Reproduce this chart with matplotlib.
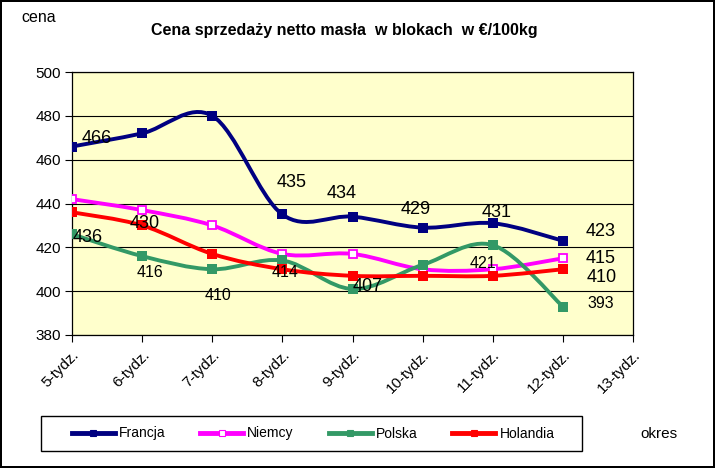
import numpy as np
import matplotlib
matplotlib.use('Agg')
from matplotlib import pyplot as plt
from matplotlib.path import Path
from matplotlib.patches import PathPatch, Rectangle
from matplotlib import transforms

plt.rcParams['font.family'] = ['Liberation Sans', 'DejaVu Sans']

# chart data
weeks = ['5-tydz.', '6-tydz.', '7-tydz.', '8-tydz.', '9-tydz.', '10-tydz.', '11-tydz.', '12-tydz.', '13-tydz.']
francja = [466, 472, 480, 435, 434, 429, 431, 423]
niemcy = [442, 437, 430, 417, 417, 410, 410, 415]
polska = [426, 416, 410, 414, 401, 412, 421, 393]
holandia = [436, 430, 417, 410, 407, 407, 407, 410]

# data labels actually shown on the original chart: (series, index)
shown_labels = {
    'Francja': [0, 3, 4, 5, 6, 7],
    'Niemcy': [7],
    'Polska': [1, 2, 3, 6, 7],
    'Holandia': [0, 1, 4, 7],
}

# label offsets in points (dx, dy)
label_offsets = {
    ('Francja', 0): (18, 6), ('Francja', 3): (7, 23), ('Francja', 4): (-8, 17),
    ('Francja', 5): (-5, 13), ('Francja', 6): (2.5, 8), ('Francja', 7): (27, 7),
    ('Niemcy', 7): (27, 0),
    ('Holandia', 0): (11, -18), ('Holandia', 1): (2, 1.5), ('Holandia', 4): (11, -8),
    ('Holandia', 7): (28, -6),
    ('Polska', 1): (6, -12), ('Polska', 2): (4, -19), ('Polska', 3): (2, -8.5),
    ('Polska', 6): (-7, -13), ('Polska', 7): (27, 2.5),
}


def smooth_path(xs, ys):
    ''' excel-like smoothed line as cubic bezier path through the points '''
    pts = np.column_stack([xs, ys]).astype(float)
    n = len(pts)
    verts = [pts[0]]
    codes = [Path.MOVETO]
    for i in range(n - 1):
        p0 = pts[i - 1] if i > 0 else pts[i]
        p1 = pts[i]
        p2 = pts[i + 1]
        p3 = pts[i + 2] if i + 2 < n else pts[i + 1]
        c1 = p1 + (p2 - p0) / 6.0
        c2 = p2 - (p3 - p1) / 6.0
        verts += [c1, c2, p2]
        codes += [Path.CURVE4] * 3
    return Path(verts, codes)


fig = plt.figure(figsize=(7.15, 4.68), dpi=100, facecolor='white',
                 edgecolor='black', linewidth=1.5)
ax = fig.add_axes([72 / 715, 1 - 335 / 468, 561 / 715, 263 / 468])
ax.set_facecolor('#FFFFCC')

series = [
    ('Francja', francja, '#000080', 'fill'),
    ('Niemcy', niemcy, '#FF00FF', 'open'),
    ('Polska', polska, '#339966', 'fill'),
    ('Holandia', holandia, '#FF0000', 'fill'),
]

handles = []
for name, vals, color, style in series:
    x = np.arange(len(vals))
    patch = PathPatch(smooth_path(x, vals), facecolor='none', edgecolor=color,
                      lw=2.8, zorder=3, capstyle='round', joinstyle='round')
    ax.add_patch(patch)
    mfc = 'white' if style == 'open' else color
    mew = 1.3 if style == 'open' else 0
    ax.plot(x, vals, linestyle='none', marker='s', markersize=7 if style != 'open' else 6,
            markerfacecolor=mfc, markeredgecolor=color, markeredgewidth=mew, zorder=4)
    # legend handle
    h, = ax.plot([], [], color=color, lw=3.5, marker='s', markersize=5,
                 markerfacecolor=mfc, markeredgecolor=color, markeredgewidth=0.8, label=name)
    handles.append(h)

    for i in shown_labels[name]:
        dx, dy = label_offsets[(name, i)]
        fs = 11.5 if name == 'Polska' else 13
        ax.annotate(str(vals[i]), xy=(i, vals[i]), xytext=(dx, dy), textcoords='offset points',
                    ha='center', va='center', fontsize=fs, color='black', zorder=5)

ax.set_xlim(0, len(weeks) - 1)
ax.set_ylim(380, 500)
ax.set_yticks(np.arange(380, 501, 20))
ax.set_xticks(np.arange(len(weeks)))
ax.set_xticklabels(weeks, rotation=45, ha='right', rotation_mode='anchor', fontsize=11)
shift = transforms.ScaledTranslation(5 / 100, 0, fig.dpi_scale_trans)
for lab in ax.get_xticklabels():
    lab.set_transform(lab.get_transform() + shift)
ax.tick_params(axis='y', labelsize=11, direction='out', length=5, pad=3)
ax.tick_params(axis='x', direction='out', length=5, pad=4)
ax.grid(axis='y', color='black', lw=0.8)
ax.set_axisbelow(True)
for s in ax.spines.values():
    s.set_color('black')
    s.set_linewidth(0.9)

fig.text(344 / 715, 1 - 30 / 468, 'Cena sprzedaży netto masła  w blokach  w €/100kg',
         ha='center', va='center', fontsize=11.5, fontweight='bold')
fig.text(39 / 715, 1 - 17 / 468, 'cena', ha='center', va='center', fontsize=11.5)
fig.text(659 / 715, 1 - 434 / 468, 'okres', ha='center', va='center', fontsize=11)

# legend box
fig.patches.append(Rectangle((41 / 715, 1 - 451 / 468), 541 / 715, 35 / 468,
                             transform=fig.transFigure, facecolor='none',
                             edgecolor='black', lw=1.0))
leg = fig.legend(handles=handles, loc='center', bbox_to_anchor=(313 / 715, 1 - 433.5 / 468),
                 ncol=4, fontsize=10, frameon=False, handlelength=3.1,
                 handletextpad=0.3, columnspacing=2.5)

fig.savefig('out.png', dpi=100, facecolor=fig.get_facecolor(), edgecolor=fig.get_edgecolor())
